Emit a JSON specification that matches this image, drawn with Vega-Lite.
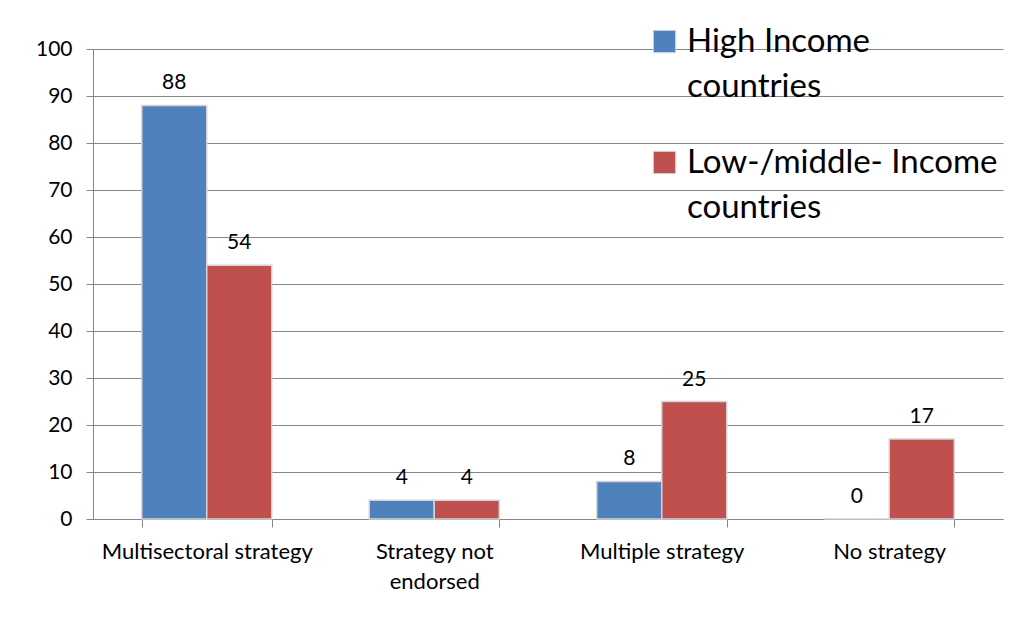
{
  "$schema": "https://vega.github.io/schema/vega-lite/v6.json",
  "autosize": {"type": "none"},
  "width": 910,
  "height": 470,
  "padding": {"left": 93, "top": 49, "right": 16, "bottom": 103},
  "background": "white",
  "config": {
    "font": "Lato",
    "view": {"stroke": null},
    "style": {"guide-label": {"lineHeight": 45}}
  },
  "data": {
    "values": [
      {"strategy": "Multisectoral strategy", "group": "High Income countries", "pct": 88},
      {"strategy": "Multisectoral strategy", "group": "Low-/middle- Income countries", "pct": 54},
      {"strategy": "Strategy not endorsed", "group": "High Income countries", "pct": 4},
      {"strategy": "Strategy not endorsed", "group": "Low-/middle- Income countries", "pct": 4},
      {"strategy": "Multiple strategy", "group": "High Income countries", "pct": 8},
      {"strategy": "Multiple strategy", "group": "Low-/middle- Income countries", "pct": 25},
      {"strategy": "No strategy", "group": "High Income countries", "pct": 0},
      {"strategy": "No strategy", "group": "Low-/middle- Income countries", "pct": 17}
    ]
  },
  "encoding": {
    "x": {
      "field": "strategy",
      "type": "nominal",
      "sort": null,
      "scale": {"paddingInner": 0.4286, "paddingOuter": 0.2143},
      "axis": {
        "title": null,
        "labelAngle": 0,
        "labelFontSize": 22,
        "labelColor": "#000000",
        "labelPadding": 14,
        "labelLimit": 300,
        "labelLineHeight": 30,
        "labelExpr": "datum.label == 'Strategy not endorsed' ? ['Strategy not', 'endorsed'] : datum.label",
        "tickBand": "extent",
        "tickSize": 8,
        "tickColor": "#868686",
        "domainColor": "#868686",
        "grid": false
      }
    },
    "xOffset": {"field": "group", "type": "nominal", "sort": null},
    "y": {
      "field": "pct",
      "type": "quantitative",
      "scale": {"domain": [0, 100]},
      "axis": {
        "title": null,
        "values": [0, 10, 20, 30, 40, 50, 60, 70, 80, 90, 100],
        "labelFontSize": 21,
        "labelColor": "#000000",
        "labelPadding": 14,
        "tickSize": 7,
        "tickColor": "#868686",
        "domainColor": "#868686",
        "gridColor": "#868686",
        "gridOpacity": 1
      }
    },
    "color": {
      "field": "group",
      "type": "nominal",
      "sort": null,
      "scale": {"range": ["#4F81BD", "#C0504D"]},
      "legend": {
        "title": null,
        "orient": "none",
        "legendX": 555,
        "legendY": -24,
        "symbolType": "square",
        "symbolSize": 500,
        "symbolStrokeColor": "#cfd8e8",
        "symbolStrokeWidth": 1,
        "labelFontSize": 33,
        "labelColor": "#000000",
        "labelOffset": 6,
        "labelLimit": 400,
        "rowPadding": 42,
        "labelExpr": "datum.label == 'High Income countries' ? ['High Income', 'countries'] : ['Low-/middle- Income', 'countries']"
      }
    }
  },
  "layer": [
    {
      "mark": {"type": "bar", "stroke": "#d4d4d4", "strokeWidth": 1.5}
    },
    {
      "mark": {"type": "text", "fontSize": 21, "baseline": "bottom", "dy": -12, "color": "#000000"},
      "encoding": {
        "text": {"field": "pct", "type": "quantitative"},
        "color": {"value": "#000000"}
      }
    }
  ]
}
